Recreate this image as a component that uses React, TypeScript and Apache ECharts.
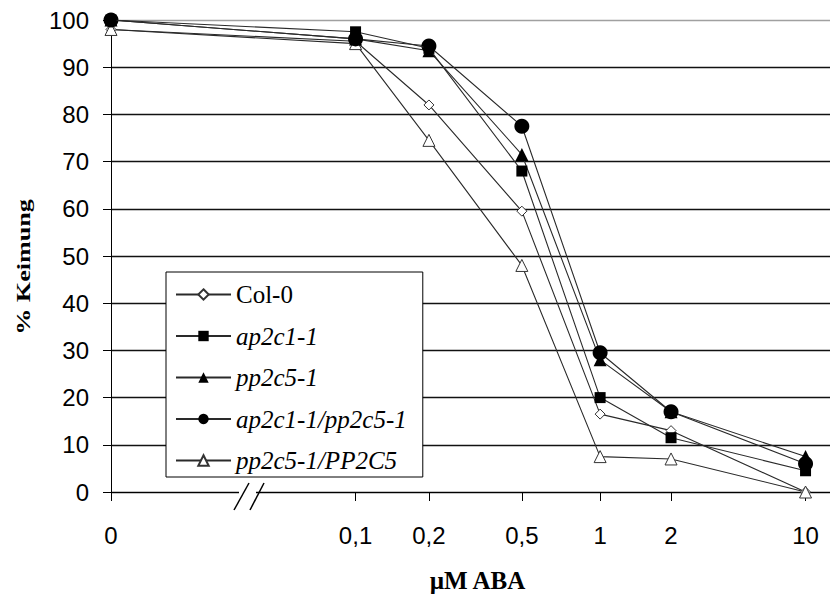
import React, { useEffect, useRef } from "react";
import * as echarts from "echarts";

// Concentrations (µM ABA) and their positions along the (broken, log-like) x axis
const concentrations = ["0", "0,1", "0,2", "0,5", "1", "2", "10"];
const axisPositions = [0, 1, 1.3, 1.68, 2, 2.29, 2.84];

const seriesNames = ["Col-0", "ap2c1-1", "pp2c5-1", "ap2c1-1/pp2c5-1", "pp2c5-1/PP2C5"];
const col0 = [98, 95.5, 82, 59.5, 16.5, 13, 0];
const ap2c1 = [100, 97.5, 94, 68, 20, 11.5, 4.5];
const pp2c5 = [100, 96, 93.5, 71.5, 28, 17, 7.5];
const ap2c1pp2c5 = [100, 96, 94.5, 77.5, 29.5, 17, 6];
const pp2c5PP2C5 = [98, 95, 74.5, 48, 7.5, 7, 0];

const yTicksCount = 11;

function nearestLabel(v: number): string {
  let best = -1;
  let bd = 1e9;
  axisPositions.forEach((p, i) => {
    const d = Math.abs(p - v);
    if (d < bd) {
      bd = d;
      best = i;
    }
  });
  return bd < 1e-6 ? concentrations[best] : "";
}

function makeSeries(name: string, values: number[], symbol: string, size: number, open: boolean, z: number) {
  return {
    type: "line",
    name,
    data: values.map((v, i) => [axisPositions[i], v]),
    symbol,
    symbolSize: size,
    showSymbol: true,
    showAllSymbol: true,
    z,
    lineStyle: { color: "#2a2a2a", width: 1.1 },
    itemStyle: open
      ? { color: "#fff", borderColor: "#333", borderWidth: 1 }
      : { color: "#000", borderColor: "#000", borderWidth: 0 },
    emphasis: { disabled: true },
  };
}

export default function App() {
  const ref = useRef<HTMLDivElement>(null);

  useEffect(() => {
    if (!ref.current) return;
    const chart = echarts.init(ref.current, undefined, { renderer: "svg" });
    const splitColors: string[] = [];
    for (let i = 0; i < yTicksCount; i++) splitColors.push(i === yTicksCount - 1 ? "#a0a0a0" : "#111");

    const option: any = {
      animation: false,
      backgroundColor: "#fff",
      grid: { left: 111, right: 0, top: 20, bottom: 102, containLabel: false },
      xAxis: {
        type: "value",
        min: 0,
        max: 2.94,
        axisLine: { show: true, onZero: false, lineStyle: { color: "#000", width: 1 } },
        axisTick: { show: true, length: 9, customValues: axisPositions, lineStyle: { color: "#000" } },
        axisLabel: {
          customValues: axisPositions,
          formatter: (v: number) => nearestLabel(v),
          fontSize: 24,
          fontFamily: "Liberation Sans",
          color: "#000",
          margin: 31,
        },
        splitLine: { show: false },
        name: "µM ABA",
        nameLocation: "middle",
        nameGap: 76,
        nameTextStyle: {
          fontFamily: "Liberation Serif",
          fontWeight: "bold",
          fontSize: 25,
          color: "#000",
          padding: [0, 0, 0, 14],
        },
      },
      yAxis: {
        type: "value",
        min: 0,
        max: 100,
        interval: 10,
        axisLine: { show: true, lineStyle: { color: "#000", width: 1 } },
        axisTick: { show: true, length: 8, lineStyle: { color: "#000" } },
        axisLabel: { fontSize: 24, fontFamily: "Liberation Sans", color: "#000", margin: 22 },
        splitLine: { show: true, lineStyle: { color: splitColors, width: 1.4 } },
      },
      legend: {
        orient: "vertical",
        left: 166,
        top: 272,
        backgroundColor: "#fff",
        borderColor: "#000",
        borderWidth: 1,
        padding: [10, 16, 4, 9],
        itemWidth: 55,
        itemHeight: 13,
        itemGap: 16.5,
        selectedMode: false,
        textStyle: { fontFamily: "Liberation Serif", fontSize: 25, color: "#000", fontStyle: "italic" },
        data: seriesNames.map((n, i) => (i === 0 ? { name: n, textStyle: { fontStyle: "normal" } } : { name: n })),
      },
      series: [
        makeSeries(seriesNames[0], col0, "diamond", 10, true, 3),
        makeSeries(seriesNames[1], ap2c1, "rect", 11, false, 5),
        makeSeries(seriesNames[2], pp2c5, "triangle", 13, false, 4),
        makeSeries(seriesNames[3], ap2c1pp2c5, "circle", 15, false, 4),
        makeSeries(seriesNames[4], pp2c5PP2C5, "triangle", 12, true, 3),
      ],
      graphic: [
        {
          type: "text",
          x: 24,
          y: 267,
          rotation: Math.PI / 2,
          scaleX: 1.45,
          style: {
            text: "% Keimung",
            font: "bold 18px 'Liberation Serif'",
            fill: "#000",
            textAlign: "center",
            textVerticalAlign: "middle",
          },
        },
        { type: "rect", shape: { x: 239, y: 491, width: 17, height: 10 }, style: { fill: "#fff" }, z: 10 },
        { type: "line", shape: { x1: 234, y1: 510, x2: 249, y2: 483 }, style: { stroke: "#000", lineWidth: 1.5 }, z: 11 },
        { type: "line", shape: { x1: 250, y1: 510, x2: 264, y2: 483 }, style: { stroke: "#000", lineWidth: 1.5 }, z: 11 },
      ],
    };
    chart.setOption(option);
    return () => chart.dispose();
  }, []);

  return <div ref={ref} style={{ position: "fixed", left: 0, top: 0, width: 830, height: 598 }} />;
}
